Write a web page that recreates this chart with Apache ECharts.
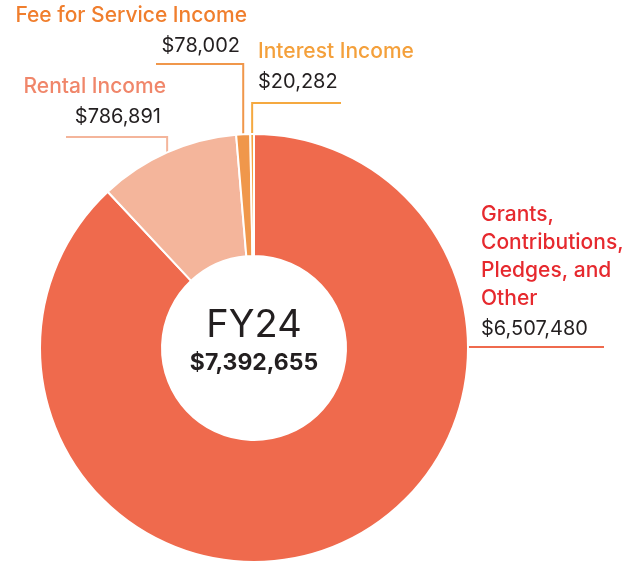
<!DOCTYPE html>
<html><head><meta charset="utf-8">
<script src="https://cdn.jsdelivr.net/npm/echarts@6/dist/echarts.min.js"></script>
<style>html,body{margin:0;padding:0;background:#fff}#c{width:631px;height:563px}</style>
</head><body><div id="c"></div>
<script>
const categories = ['Grants,\nContributions,\nPledges, and\nOther', 'Rental Income', 'Fee for Service Income', 'Interest Income'];
const values = [6507480, 786891, 78002, 20282];
const valueLabels = ['$6,507,480', '$786,891', '$78,002', '$20,282'];
const centerTitle = 'FY24';
const totalLabel = '$7,392,655';

const sliceColors = ['#EF6A4D', '#F4B59B', '#F0974B', '#F4A340'];
const nameColors = ['#E6292E', '#F0866A', '#F07E2D', '#F4A03B'];
const lineColors = ['#EF6A4D', '#F4B59B', '#F0974B', '#F5A940'];

const CX = 254, CY = 348, R0 = 92, R = 214;
const placement = [
  { x: 481, y: 201, align: 'left', anchorAngle: 90, lineY: 347, lineEnd: 604, vpad: 0 },
  { x: 166, y: 73, align: 'right', lineY: 137, lineEnd: 66, vpad: 5 },
  { x: 247, y: 2, align: 'right', lineY: 64, lineEnd: 156, vpad: 7 },
  { x: 258, y: 38, align: 'left', lineY: 103, lineEnd: 341, vpad: 0 }
];

const total = values.reduce((a, b) => a + b, 0);
let acc = 0;
const midAngles = values.map(v => { const m = (acc + v / 2) / total * 360; acc += v; return m; });

const FONT = 'Inter, "Noto Sans", sans-serif';

const data = values.map((v, i) => ({
  value: v,
  name: categories[i],
  itemStyle: { color: sliceColors[i] },
  label: {
    formatter: () => categories[i].split('\n').map(s => '{n|' + s + '}').join('\n') + '\n{v|' + valueLabels[i] + '}',
    rich: {
      n: { color: nameColors[i], fontSize: 21, fontWeight: 500, fontFamily: FONT, lineHeight: 28 },
      v: { color: '#231F20', fontSize: 20, fontWeight: 400, fontFamily: FONT, lineHeight: 32, padding: [0, placement[i].vpad, 0, 0] }
    }
  },
  labelLine: { lineStyle: { color: lineColors[i], width: 2 } }
}));

const chart = echarts.init(document.getElementById('c'), null, { renderer: 'canvas' });
chart.setOption({
  animation: false,
  graphic: [
    { type: 'text', x: CX, y: 326, style: { text: centerTitle, textAlign: 'center', textVerticalAlign: 'middle', font: '400 38px ' + FONT, fill: '#231F20' } },
    { type: 'text', x: CX, y: 363, style: { text: totalLabel, textAlign: 'center', textVerticalAlign: 'middle', font: '700 23px ' + FONT, fill: '#231F20' } }
  ],
  series: [{
    type: 'pie',
    center: [CX, CY],
    radius: [R0, R],
    startAngle: 90,
    clockwise: true,
    avoidLabelOverlap: false,
    itemStyle: { borderColor: '#fff', borderWidth: 2 },
    label: { show: true, position: 'outside' },
    labelLine: { show: true, length: 10, length2: 10 },
    emphasis: { disabled: true },
    data: data,
    labelLayout: function (p) {
      const i = p.dataIndex;
      const P = placement[i];
      const ang = (P.anchorAngle != null ? P.anchorAngle : midAngles[i]) * Math.PI / 180;
      const sx = CX + R * Math.sin(ang);
      const sy = CY - R * Math.cos(ang);
      let pts;
      if (P.anchorAngle != null) {
        pts = [[sx, P.lineY], [(sx + P.lineEnd) / 2, P.lineY], [P.lineEnd, P.lineY]];
      } else {
        pts = [[sx, sy], [sx, P.lineY], [P.lineEnd, P.lineY]];
      }
      return { x: P.x, y: P.y, align: P.align, verticalAlign: 'top', labelLinePoints: pts };
    }
  }]
});
</script></body></html>
